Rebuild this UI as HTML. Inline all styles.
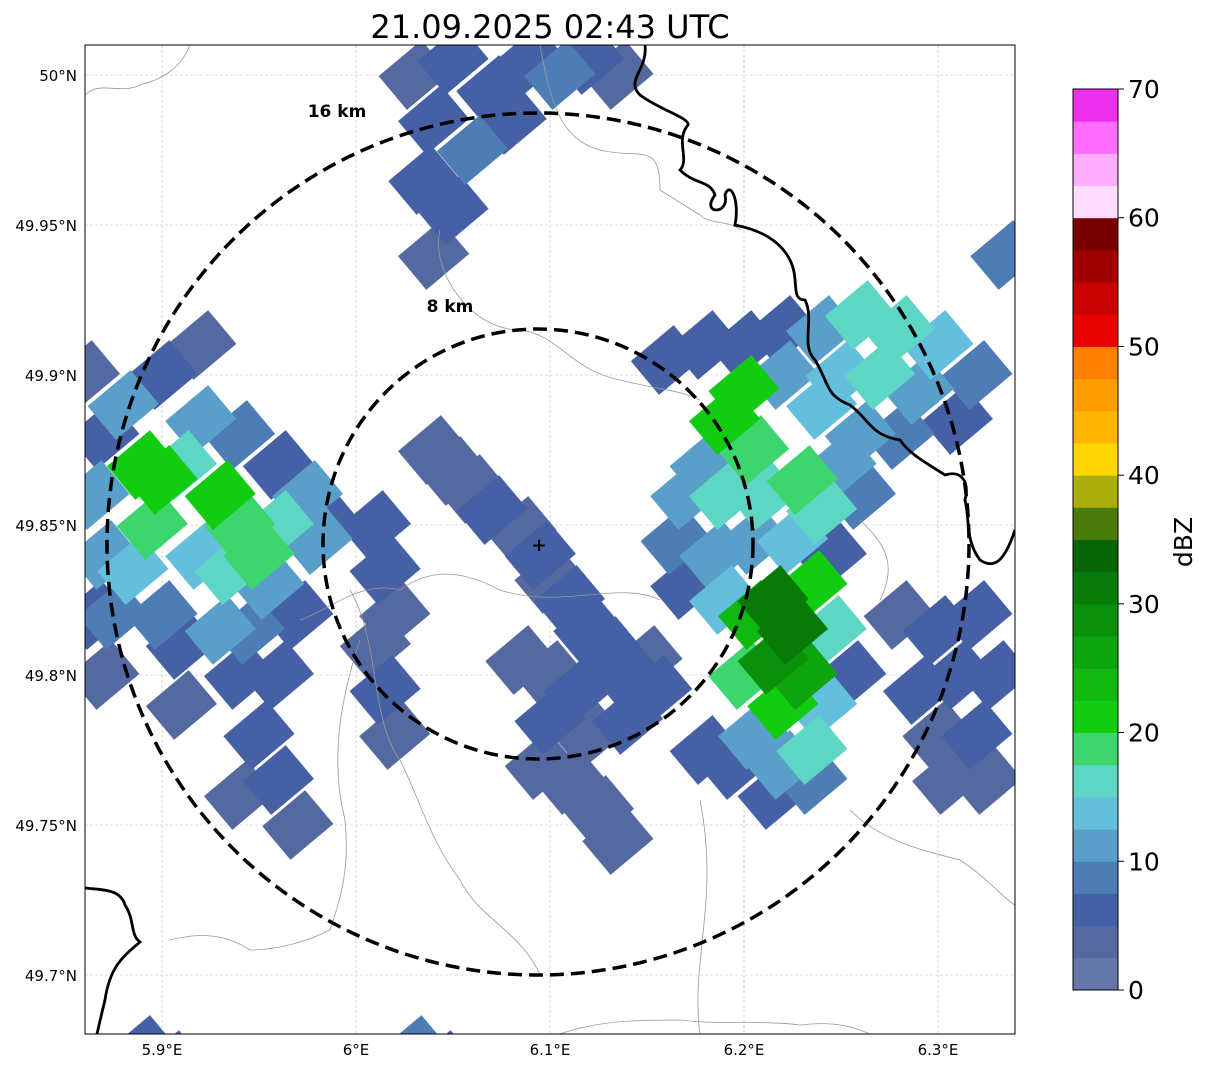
<!DOCTYPE html>
<html><head><meta charset="utf-8"><style>
body{margin:0;background:#fff;width:1207px;height:1069px;overflow:hidden;font-family:"DejaVu Sans",sans-serif}
</style></head><body>
<svg id="chart" width="1207" height="1069" xmlns="http://www.w3.org/2000/svg" font-family="DejaVu Sans, Liberation Sans, sans-serif">
<defs><clipPath id="clip"><rect x="85" y="45" width="930" height="989"/></clipPath></defs>
<text x="550" y="38" font-size="32" text-anchor="middle">21.09.2025 02:43 UTC</text>
<g id="grid"></g>
<g clip-path="url(#clip)">
<g id="blobs"></g>
<g fill="none" stroke="#999" stroke-width="0.8">
<path d="M85,95 C100,80 120,95 140,85 C160,80 180,70 190,45"/>
<path d="M540,45 C550,100 560,140 600,150 C640,160 660,140 660,190 L700,215 C710,225 730,220 740,230"/>
<path d="M440,230 C430,270 470,330 520,330 C560,335 570,370 620,380 C660,390 680,390 700,400"/>
<path d="M300,620 C330,610 360,580 400,590 C440,560 480,580 500,590 C560,610 620,580 660,600"/>
<path d="M360,640 C340,700 330,760 345,820 C350,870 340,900 330,930 C310,940 280,950 250,950 C220,930 190,935 170,940"/>
<path d="M700,800 C720,900 690,960 700,1034"/>
<path d="M850,810 C880,840 920,850 960,860 C990,880 1005,900 1015,905"/>
<path d="M860,520 C880,540 900,560 880,600"/>
<path d="M560,1034 C600,1020 640,1020 680,1020 C720,1025 760,1020 800,1025 C840,1020 860,1030 870,1034"/>
<path d="M350,590 C380,640 370,720 400,760 C420,800 430,840 460,880 C480,920 520,930 540,975"/>
</g>
<g fill="none" stroke="#000" stroke-width="2.8">
<path d="M645,45 C648,70 625,80 640,95 C660,110 690,118 688,125 C675,140 690,160 680,170 C695,185 710,180 715,195 C700,215 730,215 725,195 C730,180 740,200 735,225 C760,230 780,240 790,260 C800,280 790,300 805,300 C815,320 800,345 815,360 C830,385 825,395 850,405 C870,420 870,435 900,440 C910,455 930,465 945,475 C960,470 970,480 965,500 C970,520 965,540 980,560 C995,570 1005,560 1015,530"/>
<path d="M85,888 C100,890 120,888 125,905 C135,920 130,935 140,942 C125,955 110,965 105,1000 C100,1020 98,1030 97,1034"/>
</g>
<g fill="none" stroke="#000" stroke-width="3.5" stroke-dasharray="14,7">
<ellipse cx="538" cy="544" rx="215" ry="215"/>
<ellipse cx="538" cy="544" rx="431" ry="431"/>
</g>
<text x="539" y="551" font-size="18" font-weight="bold" text-anchor="middle">+</text>
<text x="450" y="312" font-size="17" font-weight="bold" text-anchor="middle">8 km</text>
<text x="337" y="117" font-size="17" font-weight="bold" text-anchor="middle">16 km</text>
</g>
<rect x="85" y="45" width="930" height="989" fill="none" stroke="#000" stroke-width="1"/>
<g id="axes" font-size="15"></g>
<g id="cbar"></g>
<text x="1192" y="542" font-size="25" text-anchor="middle" transform="rotate(-90 1192 542)">dBZ</text>
</svg>
<script>
const lonTicks=[5.9,6.0,6.1,6.2,6.3];
const lonLabels=["5.9°E","6°E","6.1°E","6.2°E","6.3°E"];
const latTicks=[50.0,49.95,49.9,49.85,49.8,49.75,49.7];
const latLabels=["50°N","49.95°N","49.9°N","49.85°N","49.8°N","49.75°N","49.7°N"];
const cbarTicks=[0,10,20,30,40,50,60,70];
const cbarColors=["#6477a8","#5569a1","#4560a5","#4d7db4","#5a9fca","#64bfdc","#5dd6c4","#3dd66e","#12cc12","#10b810","#0ea40e","#0b900b","#087a08","#066406","#4a7a0a","#abae0a","#ffd700","#ffb400","#ff9c00","#ff7f00","#e80000","#c80000","#a00000","#780000","#ffdcff","#ffaeff","#ff6cff","#ee30ee"];
const echoLon=[6.03,6.05,6.07,6.04,6.06,6.08,6.035,6.05,6.04,6.09,6.105,6.12,6.135,
5.86,5.87,5.865,5.87,5.865,5.87,5.88,5.89,5.9,5.91,5.895,5.885,5.9,5.9,5.92,5.92,5.93,5.94,5.935,5.92,5.91,5.93,5.95,5.96,5.955,5.945,5.94,5.94,5.96,5.975,5.98,5.97,5.96,5.91,5.95,5.96,5.97,5.94,5.985,5.875,
6.04,6.05,6.06,6.07,6.085,6.095,6.1,6.11,6.12,6.13,6.14,6.15,6.115,6.1,6.085,6.1,6.12,6.14,6.155,6.095,6.11,6.125,6.135,
6.01,6.015,6.02,6.01,6.015,6.02,
6.16,6.18,6.2,6.22,6.24,6.26,6.28,6.3,6.32,6.25,6.27,6.29,6.31,6.28,6.26,6.24,6.22,6.2,6.19,6.205,6.18,6.17,6.165,6.19,6.21,6.23,6.24,6.225,6.205,6.185,6.17,6.25,6.26,6.245,6.19,6.205,6.215,6.225,6.215,6.23,6.22,6.235,6.245,6.24,6.235,6.22,6.205,6.2,6.195,6.215,6.235,6.18,6.255,
6.28,6.3,6.32,6.33,6.31,6.29,6.3,6.32,6.305,6.325,6.335,
5.89,5.905,6.03,6.045,5.995];
const echoLat=[50.0,50.005,49.995,49.985,49.975,49.985,49.965,49.955,49.94,50.005,50.0,50.005,50.0,
49.9,49.88,49.86,49.84,49.82,49.8,49.89,49.87,49.865,49.87,49.85,49.835,49.82,49.9,49.91,49.885,49.86,49.85,49.835,49.84,49.81,49.815,49.84,49.85,49.83,49.815,49.8,49.88,49.87,49.86,49.845,49.82,49.8,49.79,49.78,49.765,49.75,49.76,49.85,49.82,
49.875,49.868,49.862,49.855,49.848,49.84,49.832,49.825,49.815,49.808,49.8,49.805,49.795,49.8,49.805,49.785,49.78,49.785,49.795,49.77,49.765,49.755,49.745,
49.85,49.835,49.82,49.81,49.795,49.78,
49.905,49.91,49.91,49.915,49.915,49.92,49.915,49.91,49.9,49.9,49.9,49.895,49.885,49.88,49.88,49.89,49.9,49.895,49.885,49.875,49.87,49.86,49.845,49.86,49.86,49.865,49.855,49.845,49.845,49.84,49.83,49.87,49.86,49.84,49.825,49.82,49.825,49.815,49.805,49.8,49.79,49.83,49.815,49.79,49.775,49.77,49.78,49.8,49.77,49.76,49.765,49.775,49.8,
49.82,49.815,49.82,49.8,49.8,49.795,49.78,49.78,49.765,49.765,49.94,
49.675,49.67,49.675,49.67,49.665];
const echoDbz=[4,6,5,7,8,5,5,6,4,6,9,5,4,
4,6,12,10,6,4,10,22,21,16,18,14,8,5,4,12,20,19,16,14,6,10,18,15,12,8,5,8,7,10,12,6,5,4,6,5,4,3,5,8,
3,4,3,5,4,5,4,6,5,7,5,4,6,4,3,5,4,6,5,4,3,3,3,
5,7,4,4,5,3,
5,6,5,6,12,15,16,14,8,14,16,12,6,8,10,14,12,22,21,18,12,10,8,15,17,19,16,14,12,10,6,12,8,6,14,24,30,32,28,25,22,22,16,14,15,12,10,18,6,5,8,5,6,
4,6,5,6,7,5,4,5,4,3,8,
5,4,8,6,14];
const NS='http://www.w3.org/2000/svg';
const X=lon=>162+(lon-5.9)*1940;
const Y=lat=>75+(50-lat)*3000;
const CB=v=>990-v*(901/70);
function mk(tag,attrs,parent){const e=document.createElementNS(NS,tag);for(const k in attrs)e.setAttribute(k,attrs[k]);parent.appendChild(e);return e;}
const grid=document.getElementById('grid'),axes=document.getElementById('axes'),blobs=document.getElementById('blobs'),cbar=document.getElementById('cbar');
lonTicks.forEach((t,i)=>{
 const l=mk('line',{x1:X(t),x2:X(t),y1:45,y2:1034,stroke:'#bbb','stroke-width':0.6,'stroke-dasharray':'3,2'},grid);
 
 
 const tx=mk('text',{x:X(t),y:1055,'text-anchor':'middle'},axes);tx.textContent=lonLabels[i];
 
 
});
latTicks.forEach((t,i)=>{
 const l=mk('line',{x1:85,x2:1015,y1:Y(t),y2:Y(t),stroke:'#bbb','stroke-width':0.6,'stroke-dasharray':'3,2'},grid);
 
 
 const tx=mk('text',{x:77,y:Y(t)+6,'text-anchor':'end'},axes);tx.textContent=latLabels[i];
 
 
});
const col=v=>cbarColors[Math.max(0,Math.min(27,Math.floor(v/2.5)))];
const order=echoDbz.map((v,i)=>i).sort((a,b)=>echoDbz[a]-echoDbz[b]);
order.forEach(i=>{
 const x=X(echoLon[i]),y=Y(echoLat[i]);
 const r=mk('rect',{x:x-28,y:y-22,width:56,height:44,fill:col(echoDbz[i]),transform:`rotate(-40 ${x} ${y})`},blobs);
 
 
});
cbarColors.forEach((c,i)=>{
 const r=mk('rect',{x:1073,y:CB((i+1)*2.5),width:45,height:CB(i*2.5)-CB((i+1)*2.5)+0.5,fill:c},cbar);
 
 
});
mk('rect',{x:1073,y:89,width:45,height:901,fill:'none',stroke:'#000','stroke-width':1},cbar);
cbarTicks.forEach(t=>{
 mk('line',{x1:1118,x2:1124,y1:CB(t),y2:CB(t),stroke:'#000'},cbar);
 const tx=mk('text',{x:1128,y:CB(t)+9,'font-size':25},cbar);tx.textContent=t;
 
 
});
</script>
</body></html>
